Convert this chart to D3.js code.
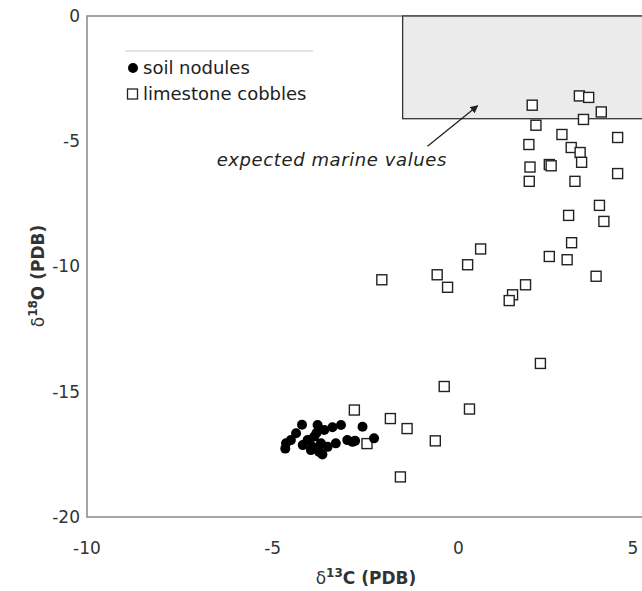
<!DOCTYPE html>
<html>
<head>
<meta charset="utf-8">
<script src="https://cdn.jsdelivr.net/npm/d3@7/dist/d3.min.js"></script>
<style>
  body { margin: 0; background: #fff; }
  svg { display: block; font-family: "DejaVu Sans", Verdana, sans-serif; }
</style>
</head>
<body>
<svg width="642" height="591"></svg>
<script>
// soil nodules: d13C, d18O
const soilX = [-4.21, -4.37, -4.51, -4.64, -4.66, -4.19, -4.06, -3.88, -3.79, -3.61, -3.39, -3.16,
               -3.97, -3.75, -3.7, -3.52, -3.3, -3.93, -3.82, -2.99, -2.85, -2.78, -2.58, -2.27, -4.02, -3.66];
const soilY = [-16.32, -16.66, -16.93, -17.06, -17.27, -17.13, -16.93, -16.79, -16.33, -16.53, -16.42, -16.33,
               -17.33, -17.4, -17.06, -17.2, -17.06, -17.2, -16.65, -16.93, -17.0, -16.96, -16.4, -16.86, -16.95, -17.5];

// limestone cobbles: d13C, d18O
const cobX = [1.99, 3.26, 3.51, 3.85, 3.37, 2.09, 2.79, 4.29, 1.9, 3.04, 3.28, 3.32, 2.45, 2.5, 1.93, 4.29, 1.91, 3.14,
              3.8, 2.97, 3.92, 3.05, 2.45, 2.93, 3.71, 1.81, 1.46, 1.37, 0.6,
              0.25, -0.57, -0.29, -2.06, 2.21,
              -0.38, 0.3, -2.8, -1.83, -1.38, -0.62, -2.46, -1.56];
const cobY = [-3.56, -3.19, -3.25, -3.83, -4.13, -4.36, -4.73, -4.85, -5.13, -5.25, -5.45, -5.84, -5.93, -5.98, -6.03, -6.29, -6.6, -6.6,
              -7.56, -7.96, -8.2, -9.05, -9.6, -9.73, -10.39, -10.73, -11.13, -11.36, -9.3,
              -9.93, -10.33, -10.83, -10.53, -13.87,
              -14.79, -15.69, -15.73, -16.07, -16.47, -16.96, -17.07, -18.4];

const xTicks = [-10, -5, 0, 5];
const yTicks = [0, -5, -10, -15, -20];

// expected marine values box and arrow
const marineBox = {x0: -1.5, x1: 5, y0: 0, y1: -4.1};
const arrowFrom = [-0.83, -5.2];
const arrowTo = [0.52, -3.58];

const svg = d3.select("svg");

const x = d3.scaleLinear().domain([-10, 5]).range([87, 644]);
const y = d3.scaleLinear().domain([-20, 0]).range([517, 16]);

svg.append("defs").append("marker")
    .attr("id", "arrow")
    .attr("viewBox", "0 0 10 10")
    .attr("refX", 9).attr("refY", 5)
    .attr("markerWidth", 8).attr("markerHeight", 8)
    .attr("markerUnits", "userSpaceOnUse")
    .attr("orient", "auto")
  .append("path")
    .attr("d", "M0,0 L10,5 L0,10 z")
    .attr("fill", "#222");

// plot frame
svg.append("rect")
    .attr("x", x(-10)).attr("y", y(0))
    .attr("width", x(5) - x(-10)).attr("height", y(-20) - y(0))
    .attr("fill", "none").attr("stroke", "#888").attr("stroke-width", 1.5);

// shaded marine box
svg.append("rect")
    .attr("x", x(marineBox.x0)).attr("y", y(marineBox.y0))
    .attr("width", x(marineBox.x1) - x(marineBox.x0))
    .attr("height", y(marineBox.y1) - y(marineBox.y0))
    .attr("fill", "#ebebeb").attr("stroke", "#333").attr("stroke-width", 1.3);

// tick labels
svg.append("g").selectAll("text")
  .data(yTicks).join("text")
    .attr("x", 80).attr("y", d => y(d))
    .attr("dy", "0.35em")
    .attr("text-anchor", "end")
    .attr("font-size", 17).attr("fill", "#333")
    .text(d => d);

// the last x label sits on the window edge, as in the original
svg.append("g").selectAll("text")
  .data(xTicks).join("text")
    .attr("x", d => Math.min(x(d), 633)).attr("y", 554)
    .attr("text-anchor", "middle")
    .attr("font-size", 17).attr("fill", "#333")
    .text(d => d);

// axis titles
const xt = svg.append("text")
    .attr("x", 366).attr("y", 584)
    .attr("text-anchor", "middle")
    .attr("font-size", 17).attr("font-weight", "bold").attr("fill", "#333");
xt.append("tspan").attr("font-weight", "normal").text("δ");
xt.append("tspan").attr("font-size", 12).attr("dy", -7).text("13");
xt.append("tspan").attr("dy", 7).text("C (PDB)");

const yt = svg.append("text")
    .attr("transform", "translate(44,276) rotate(-90)")
    .attr("text-anchor", "middle")
    .attr("font-size", 17).attr("font-weight", "bold").attr("fill", "#333");
yt.append("tspan").attr("font-weight", "normal").text("δ");
yt.append("tspan").attr("font-size", 12).attr("dy", -7).text("18");
yt.append("tspan").attr("dy", 7).text("O (PDB)");

// annotation
svg.append("line")
    .attr("x1", x(arrowFrom[0])).attr("y1", y(arrowFrom[1]))
    .attr("x2", x(arrowTo[0])).attr("y2", y(arrowTo[1]))
    .attr("stroke", "#222").attr("stroke-width", 1.3)
    .attr("marker-end", "url(#arrow)");

svg.append("text")
    .attr("x", 447).attr("y", 166)
    .attr("text-anchor", "end")
    .attr("font-size", 18).attr("font-style", "italic").attr("fill", "#222")
    .attr("letter-spacing", 0.6)
    .text("expected marine values");

// data
svg.append("g").selectAll("rect")
  .data(d3.range(cobX.length)).join("rect")
    .attr("x", i => x(cobX[i]) - 5).attr("y", i => y(cobY[i]) - 5)
    .attr("width", 10).attr("height", 10)
    .attr("fill", "#fff").attr("stroke", "#222").attr("stroke-width", 1.4);

svg.append("g").selectAll("circle")
  .data(d3.range(soilX.length)).join("circle")
    .attr("cx", i => x(soilX[i])).attr("cy", i => y(soilY[i]))
    .attr("r", 5)
    .attr("fill", "#000");

// legend
const lg = svg.append("g");
lg.append("line")
    .attr("x1", 125).attr("x2", 313).attr("y1", 51).attr("y2", 51)
    .attr("stroke", "#ccc");
lg.append("circle").attr("cx", 133).attr("cy", 68).attr("r", 5).attr("fill", "#000");
lg.append("text").attr("x", 143).attr("y", 74).attr("font-size", 18).attr("fill", "#222").text("soil nodules");
lg.append("rect").attr("x", 127.5).attr("y", 89).attr("width", 10).attr("height", 10)
    .attr("fill", "#fff").attr("stroke", "#222").attr("stroke-width", 1.3);
lg.append("text").attr("x", 143).attr("y", 100).attr("font-size", 18).attr("fill", "#222").text("limestone cobbles");
</script>
</body>
</html>
